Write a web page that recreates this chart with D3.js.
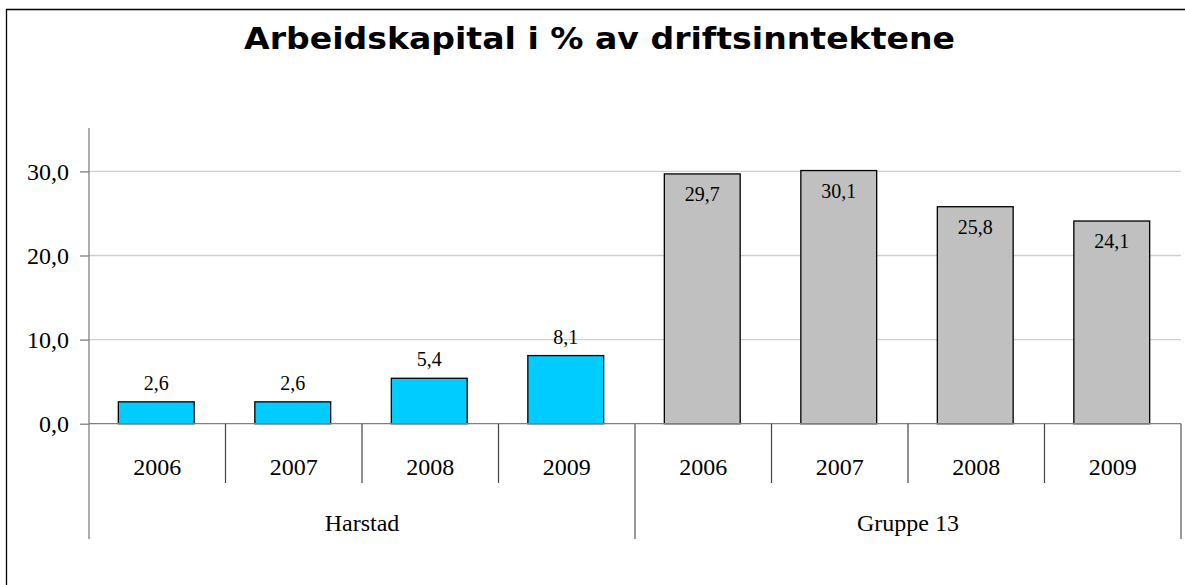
<!DOCTYPE html>
<html>
<head>
<meta charset="utf-8">
<script src="https://cdn.jsdelivr.net/npm/d3@7"></script>
<style>
  body { margin: 0; background: #fff; overflow: hidden; }
  svg { display: block; }
</style>
</head>
<body>
<div class="vis-holder"></div>
<script>
var groups = ['Harstad', 'Gruppe 13'];
var years = ['2006', '2007', '2008', '2009'];
var harstadValues = [2.6, 2.6, 5.4, 8.1];
var gruppeValues = [29.7, 30.1, 25.8, 24.1];
var yTicks = [0, 10, 20, 30];

var mydata = [];
years.forEach(function(y, i) { mydata.push({group: groups[0], year: y, n: harstadValues[i], key: groups[0] + y}); });
years.forEach(function(y, i) { mydata.push({group: groups[1], year: y, n: gruppeValues[i], key: groups[1] + y}); });

var width = 1185;
var height = 585;
var margin = {top: 128, left: 89, right: 4, zero: 423.7};
var serif = '"Liberation Serif", "Times New Roman", serif';

var svg = d3.select('div.vis-holder')
			.append('svg')
			.attr('width', width)
			.attr('height', height);

// outer frame: only the left and top edges are inside the picture
svg.append('path')
   .attr('d', 'M6.5,' + height + 'V9.5H' + width)
   .style('fill', 'none').style('stroke', '#000').style('stroke-width', 1.3);

svg.append('text')
   .attr('x', 599.5).attr('y', 49)
   .attr('text-anchor', 'middle')
   .attr('textLength', 711).attr('lengthAdjust', 'spacingAndGlyphs')
   .style('font-family', '"DejaVu Sans", Verdana, sans-serif')
   .style('font-weight', 'bold')
   .style('font-size', '31px')
   .text('Arbeidskapital i % av driftsinntektene');

var xScale = d3.scaleBand()
			   .domain(mydata.map(function(d) { return d.key; }))
			   .range([margin.left, width - margin.right])
			   .padding(0);

var groupScale = d3.scaleBand()
				   .domain(groups)
				   .range([margin.left, width - margin.right]);

var yScale = d3.scaleLinear()
			   .domain([0, 35.16])
			   .range([margin.zero, margin.top]);

// gridlines
svg.append('g')
   .selectAll('line')
   .data(yTicks.slice(1))
   .enter()
   .append('line')
   .attr('x1', margin.left).attr('x2', width - margin.right)
   .attr('y1', function(d) { return yScale(d); })
   .attr('y2', function(d) { return yScale(d); })
   .style('stroke', '#cfcfcf').style('stroke-width', 1.3);

var barW = xScale.bandwidth() / 1.8;

svg.append('g')
   .selectAll('rect')
   .data(mydata)
   .enter()
   .append('rect')
   .attr('x', function(d) { return xScale(d.key) + (xScale.bandwidth() - barW) / 2 - 1; })
   .attr('y', function(d) { return yScale(d.n); })
   .attr('width', barW)
   .attr('height', function(d) { return margin.zero - yScale(d.n); })
   .style('fill', function(d) { return d.group == groups[0] ? '#00ccff' : '#c0c0c0'; })
   .style('stroke', '#000')
   .style('stroke-width', 1.3);

// value labels: above for Harstad, inside the top for Gruppe 13
svg.append('g')
   .selectAll('text')
   .data(mydata)
   .enter()
   .append('text')
   .attr('x', function(d) { return xScale(d.key) + xScale.bandwidth() / 2 - 1; })
   .attr('y', function(d) { return d.group == groups[0] ? yScale(d.n) - 19 : yScale(d.n) + 20; })
   .attr('dy', '0.35em')
   .attr('text-anchor', 'middle')
   .style('font-family', serif)
   .style('font-size', '20px')
   .text(function(d) { return d3.format('.1f')(d.n).replace('.', ','); });

// y axis
var yAxis = svg.append('g')
			   .attr('transform', 'translate(' + margin.left + ',0)')
			   .call(d3.axisLeft(yScale)
					   .tickValues(yTicks)
					   .tickSize(9)
					   .tickPadding(11)
					   .tickFormat(function(d) { return d3.format('.1f')(d).replace('.', ','); }));
yAxis.select('.domain').remove();
yAxis.selectAll('line').style('stroke', '#808080').style('stroke-width', 1.3);
yAxis.selectAll('text')
	 .style('font-family', serif)
	 .style('font-size', '24px')
	 .style('fill', '#000');

svg.append('line')
   .attr('x1', margin.left).attr('x2', margin.left)
   .attr('y1', margin.top).attr('y2', 539)
   .style('stroke', '#808080').style('stroke-width', 1.3);

// x axis line
svg.append('line')
   .attr('x1', margin.left).attr('x2', width - margin.right)
   .attr('y1', margin.zero).attr('y2', margin.zero)
   .style('stroke', '#808080').style('stroke-width', 1.3);

// year separators
svg.append('g')
   .selectAll('line')
   .data(mydata.filter(function(d) { return d.year != years[0]; }))
   .enter()
   .append('line')
   .attr('x1', function(d) { return xScale(d.key); })
   .attr('x2', function(d) { return xScale(d.key); })
   .attr('y1', margin.zero)
   .attr('y2', 483)
   .style('stroke', '#444').style('stroke-width', 1.2);

// group separators
svg.append('g')
   .selectAll('line')
   .data(groups.slice(1).map(function(g) { return groupScale(g); }).concat([width - margin.right]))
   .enter()
   .append('line')
   .attr('x1', function(d) { return d; }).attr('x2', function(d) { return d; })
   .attr('y1', margin.zero).attr('y2', 539)
   .style('stroke', '#555').style('stroke-width', 1.2);

svg.append('g')
   .selectAll('text')
   .data(mydata)
   .enter()
   .append('text')
   .attr('x', function(d) { return xScale(d.key) + xScale.bandwidth() / 2; })
   .attr('y', 467)
   .attr('dy', '0.35em')
   .attr('text-anchor', 'middle')
   .style('font-family', serif)
   .style('font-size', '24px')
   .text(function(d) { return d.year; });

svg.append('g')
   .selectAll('text')
   .data(groups)
   .enter()
   .append('text')
   .attr('x', function(d) { return groupScale(d) + groupScale.bandwidth() / 2; })
   .attr('y', 523)
   .attr('dy', '0.35em')
   .attr('text-anchor', 'middle')
   .style('font-family', serif)
   .style('font-size', '24px')
   .text(function(d) { return d; });
</script>
</body>
</html>
